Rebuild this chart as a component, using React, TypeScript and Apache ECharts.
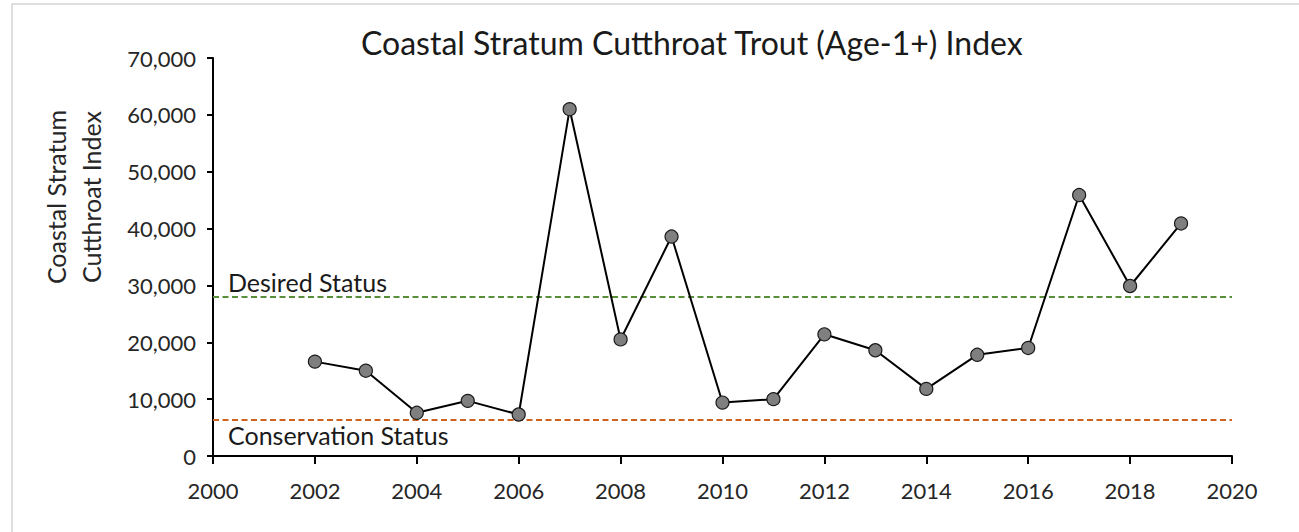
import React, { useEffect, useRef } from "react";
import * as echarts from "echarts";

const years = [2002, 2003, 2004, 2005, 2006, 2007, 2008, 2009, 2010, 2011, 2012, 2013, 2014, 2015, 2016, 2017, 2018, 2019];
const indexValues = [16600, 15000, 7600, 9700, 7300, 61000, 20500, 38600, 9400, 10000, 21400, 18600, 11800, 17800, 19000, 45900, 29900, 40900];
const desiredStatus = 28000;
const conservationStatus = 6300;
const titleText = "Coastal Stratum Cutthroat Trout (Age-1+) Index";
const yAxisName = "Coastal Stratum\nCutthroat Index";

const FONT = "Lato, 'Open Sans', sans-serif";

export default function App() {
  const ref = useRef<HTMLDivElement>(null);
  useEffect(() => {
    if (!ref.current) return;
    const chart = echarts.init(ref.current, undefined, { renderer: "svg" });
    const data = years.map((y, i) => [y, indexValues[i]]);
    chart.setOption({
      animation: false,
      backgroundColor: "#ffffff",
      textStyle: { fontFamily: FONT },
      title: {
        text: titleText,
        left: 356,
        top: 21,
        textStyle: { fontFamily: FONT, fontSize: 32, fontWeight: "normal", color: "#1a1a1a" },
      },
      graphic: [
        {
          type: "rect",
          shape: { x: 12, y: 4, width: 1300, height: 540 },
          style: { fill: "none", stroke: "#d4d4d4", lineWidth: 1.5 },
          silent: true,
        },
        {
          type: "text",
          x: 73,
          y: 197,
          rotation: Math.PI / 2,
          style: {
            text: yAxisName,
            fontFamily: FONT,
            fontSize: 25,
            lineHeight: 35,
            fill: "#262626",
            align: "center",
            verticalAlign: "middle",
          },
          silent: true,
        },
      ],
      grid: { left: 213, right: 67, top: 58, bottom: 76, containLabel: false },
      xAxis: {
        type: "value",
        min: 2000,
        max: 2020,
        interval: 2,
        splitLine: { show: false },
        axisLine: { show: true, lineStyle: { color: "#000", width: 2 } },
        axisTick: { show: true, length: 8, lineStyle: { color: "#000", width: 2 } },
        axisLabel: {
          margin: 23,
          fontSize: 22,
          color: "#262626",
          fontFamily: FONT,
          formatter: (v: number) => String(v),
        },
      },
      yAxis: {
        type: "value",
        min: 0,
        max: 70000,
        interval: 10000,
        splitLine: { show: false },
        axisLine: { show: true, lineStyle: { color: "#000", width: 2 } },
        axisTick: { show: true, length: 6, lineStyle: { color: "#000", width: 2 } },
        axisLabel: {
          margin: 17,
          fontSize: 22,
          color: "#262626",
          fontFamily: FONT,
          formatter: (v: number) => v.toLocaleString("en-US"),
        },
      },
      series: [
        {
          type: "line",
          data,
          symbol: "circle",
          symbolSize: 13,
          lineStyle: { color: "#000", width: 2 },
          itemStyle: { color: "#7f7f7f", borderColor: "#1a1a1a", borderWidth: 1.2 },
          z: 3,
          markLine: {
            silent: true,
            symbol: ["none", "none"],
            z: 2,
            data: [
              {
                yAxis: desiredStatus,
                lineStyle: { color: "#5a8f3a", type: [6, 3.5], width: 2 },
                label: {
                  show: true,
                  position: "insideStartTop",
                  formatter: "Desired Status",
                  fontSize: 25,
                  color: "#1a1a1a",
                  fontFamily: FONT,
                  distance: [15, 2],
                },
              },
              {
                yAxis: conservationStatus,
                lineStyle: { color: "#cf6220", type: [6, 3.5], width: 2 },
                label: {
                  show: true,
                  position: "insideStartBottom",
                  formatter: "Conservation Status",
                  fontSize: 25,
                  color: "#1a1a1a",
                  fontFamily: FONT,
                  distance: [15, 2],
                },
              },
            ],
          },
        },
      ],
    });
    return () => chart.dispose();
  }, []);
  return <div ref={ref} style={{ position: "fixed", left: 0, top: 0, width: 1299, height: 532 }} />;
}
